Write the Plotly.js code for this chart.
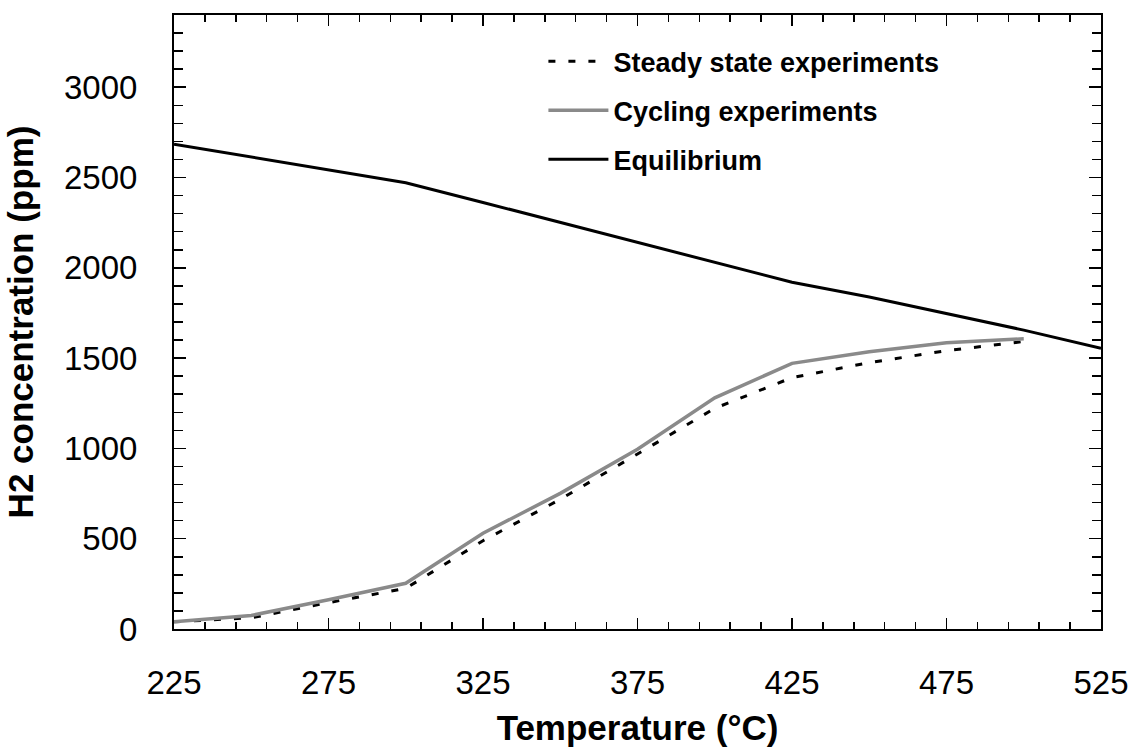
<!DOCTYPE html>
<html>
<head>
<meta charset="utf-8">
<script src="https://cdn.plot.ly/plotly-3.0.1.min.js"></script>
<style>
  html, body { margin: 0; padding: 0; background: #ffffff; }
  #chart { width: 1135px; height: 749px; }
</style>
</head>
<body>
<div id="chart"></div>
<script>
// Temperatures (°C) at which each series was evaluated
const equilibriumTemps = [225, 250, 275, 300, 325, 350, 375, 400, 425, 450, 475, 500, 525];
const experimentTemps  = [225, 250, 275, 300, 325, 350, 375, 400, 425, 450, 475, 500];

// H2 concentration (ppm)
const equilibriumH2 = [2685, 2615, 2545, 2471, 2362, 2252, 2142, 2032, 1920, 1838, 1748, 1655, 1554];
const cyclingH2     = [40, 75, 162, 253, 530, 751, 995, 1280, 1471, 1535, 1585, 1607];
const steadyH2      = [40, 62, 146, 225, 489, 718, 969, 1222, 1392, 1475, 1541, 1592];

const seriesNames = ['Steady state experiments', 'Cycling experiments', 'Equilibrium'];

const FONT = 'Liberation Sans, Arial, Helvetica, sans-serif';

const traces = [
  {
    x: experimentTemps, y: steadyH2, name: seriesNames[0],
    mode: 'lines', legendgroup: 'a',
    line: { color: '#000000', width: 3, dash: '7px,13px' }
  },
  {
    x: experimentTemps, y: cyclingH2, name: seriesNames[1],
    mode: 'lines', legendgroup: 'b',
    line: { color: '#8a8a8a', width: 3.5 }
  },
  {
    x: equilibriumTemps, y: equilibriumH2, name: seriesNames[2],
    mode: 'lines', legendgroup: 'c',
    line: { color: '#000000', width: 3 }
  }
];

const axisCommon = {
  showgrid: false, zeroline: false,
  showline: true, linecolor: '#000000', linewidth: 2,
  mirror: 'ticks', ticks: 'inside', tickcolor: '#000000', tickwidth: 1.5,
  tickfont: { family: FONT, size: 33, color: '#000000' }
};

const layout = {
  width: 1135, height: 749,
  paper_bgcolor: '#ffffff', plot_bgcolor: '#ffffff',
  margin: { l: 174, r: 34, t: 15, b: 120 },
  showlegend: true,
  legend: {
    x: 0.3985, y: 0.964, xanchor: 'left', yanchor: 'top',
    bgcolor: 'rgba(0,0,0,0)', borderwidth: 0,
    itemwidth: 60,
    traceorder: 'grouped', tracegroupgap: 11,
    font: { family: FONT, size: 27, color: '#000000', weight: 'bold' }
  },
  xaxis: Object.assign({}, axisCommon, {
    range: [225, 525], tickmode: 'linear', tick0: 225, dtick: 50, ticklen: 11,
    ticklabelstandoff: 23,
    minor: { tickmode: 'linear', tick0: 225, dtick: 10, ticks: 'inside', ticklen: 7, tickcolor: '#000000', tickwidth: 1.5 },
    title: { text: 'Temperature (°C)', standoff: 16,
             font: { family: FONT, size: 35, color: '#000000', weight: 'bold' } }
  }),
  yaxis: Object.assign({}, axisCommon, {
    range: [0, 3400], tickmode: 'linear', tick0: 0, dtick: 500, ticklen: 12,
    ticklabelstandoff: 28,
    minor: { tickmode: 'linear', tick0: 0, dtick: 100, ticks: 'inside', ticklen: 9, tickcolor: '#000000', tickwidth: 1.5 },
    title: { text: 'H2 concentration (ppm)', standoff: 20,
             font: { family: FONT, size: 35, color: '#000000', weight: 'bold' } }
  })
};

Plotly.newPlot('chart', traces, layout, { displayModeBar: false, staticPlot: true });
</script>
</body>
</html>
